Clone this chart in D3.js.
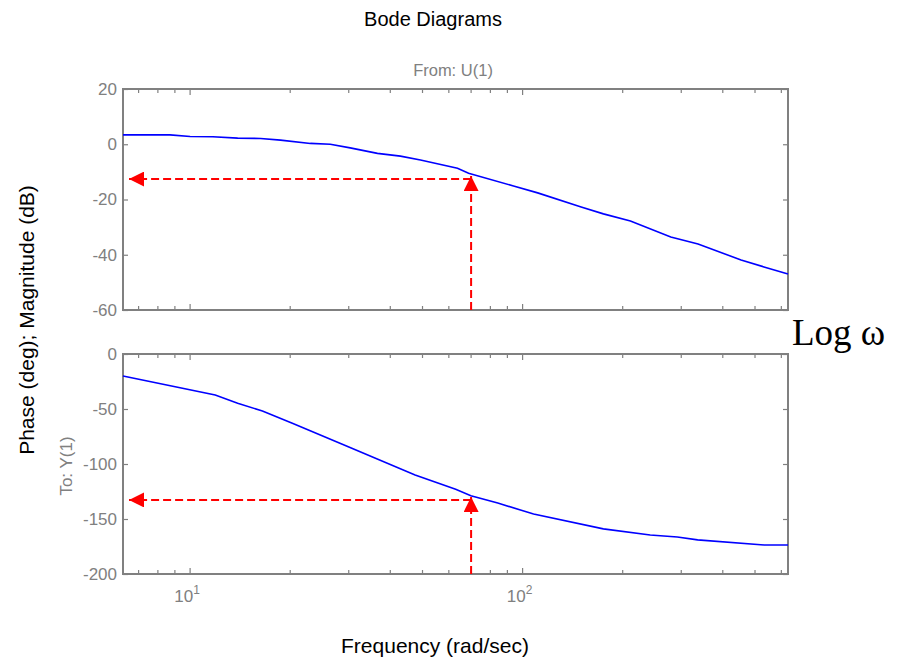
<!DOCTYPE html>
<html>
<head>
<meta charset="utf-8">
<script src="https://cdn.jsdelivr.net/npm/d3@7"></script>
<style>
  html, body { margin: 0; padding: 0; background: #fff; }
  svg { display: block; font-family: "Liberation Sans", Arial, sans-serif; }
</style>
</head>
<body>
<svg id="chart" width="907" height="661"></svg>
<script>
// Frequency response samples (rad/sec)
const magFreq  = [6.283, 8.7, 10, 11.7, 13.9, 16.3, 18.7, 23, 26.4, 30.3, 36.6, 42.9, 49.3, 63.7, 68.8, 93.9, 111, 150, 175, 211, 279, 337, 454, 532, 628.3];
const magDb    = [3.4, 3.4, 2.8, 2.7, 2.2, 2.1, 1.5, 0.3, 0.0, -1.3, -3.3, -4.3, -5.7, -8.7, -10.5, -15.1, -17.6, -22.7, -25.2, -27.8, -33.6, -36.1, -41.9, -44.4, -47.0];
const phaseFreq = [6.283, 11.9, 13.9, 16.5, 20.3, 29.9, 47.5, 62.9, 69.9, 84.2, 107.9, 174.9, 242, 292, 336, 532, 628.3];
const phaseDeg  = [-20, -37.3, -44.8, -51.8, -63, -84.3, -110, -123, -128.8, -135.5, -145.5, -159, -164.5, -166.4, -169, -173.6, -173.6];

// Marked operating point
const markFreq = 70;
const markMag = -12.6;
const markPhase = -132.7;

// Axis ticks
const freqDomain = [2 * Math.PI, 200 * Math.PI];
const freqMinorTicks = [7, 8, 9, 20, 30, 40, 50, 60, 70, 80, 90, 200, 300, 400, 500, 600];
const freqMajorTicks = [10, 100];
const freqMajorExp = ["1", "2"];
const magTicks = [20, 0, -20, -40, -60];
const phaseTicks = [0, -50, -100, -150, -200];

const grey = "#808080";
const svg = d3.select("#chart");

const left = 123, right = 788;
const x = d3.scaleLog().domain(freqDomain).range([left, right]);
const yMag = d3.scaleLinear().domain([-60, 20]).range([310, 89]);
const yPh  = d3.scaleLinear().domain([-200, 0]).range([574, 354]);

// Arrow markers
const defs = svg.append("defs");
defs.append("marker")
  .attr("id", "arrowhead")
  .attr("viewBox", "0 0 10 10")
  .attr("refX", 10).attr("refY", 5)
  .attr("markerWidth", 15).attr("markerHeight", 15)
  .attr("markerUnits", "userSpaceOnUse")
  .attr("orient", "auto")
  .append("path")
  .attr("d", "M0,0 L10,5 L0,10 Z")
  .attr("fill", "#ff0000");

function drawPanel(y, ticks, showXLabels) {
  const g = svg.append("g");
  const [y0, y1] = y.range(); // bottom, top

  // Box
  g.append("rect")
    .attr("x", left).attr("y", y1)
    .attr("width", right - left).attr("height", y0 - y1)
    .attr("fill", "none").attr("stroke", grey).attr("stroke-width", 2);

  // Frequency ticks, inward on top and bottom
  [[y0, -1], [y1, 1]].forEach(([yy, dir]) => {
    g.selectAll(null).data(freqMinorTicks).enter().append("line")
      .attr("x1", d => x(d)).attr("x2", d => x(d))
      .attr("y1", yy).attr("y2", yy + dir * 4)
      .attr("stroke", grey).attr("stroke-width", 1.2);
    g.selectAll(null).data(freqMajorTicks).enter().append("line")
      .attr("x1", d => x(d)).attr("x2", d => x(d))
      .attr("y1", yy).attr("y2", yy + dir * 6)
      .attr("stroke", grey).attr("stroke-width", 1.2);
  });

  // Value ticks, inward on left and right
  const yAxis = d3.axisLeft(y).tickValues(ticks).tickSizeInner(-5).tickSizeOuter(0)
    .tickPadding(6).tickFormat(d => String(d));
  const ya = g.append("g").attr("transform", `translate(${left},0)`).call(yAxis);
  ya.select(".domain").remove();
  ya.selectAll(".tick line").attr("stroke", grey).attr("stroke-width", 1.2);
  ya.selectAll(".tick text").attr("fill", grey).attr("font-size", 17)
    .attr("font-family", "Liberation Sans, Arial, sans-serif");
  const yr = d3.axisRight(y).tickValues(ticks).tickSizeInner(-5).tickSizeOuter(0).tickFormat("");
  const yra = g.append("g").attr("transform", `translate(${right},0)`).call(yr);
  yra.select(".domain").remove();
  yra.selectAll(".tick line").attr("stroke", grey).attr("stroke-width", 1.2);

  if (showXLabels) {
    const lab = g.selectAll(null).data(freqMajorTicks).enter().append("text")
      .attr("x", d => x(d) - 3).attr("y", y0 + 28)
      .attr("text-anchor", "middle")
      .attr("fill", grey).attr("font-size", 17);
    lab.append("tspan").text("10");
    lab.append("tspan").attr("dy", -8).attr("font-size", 12).text((d, i) => freqMajorExp[i]);
  }
  return g;
}

drawPanel(yMag, magTicks, false);
drawPanel(yPh, phaseTicks, true);

// Response curves
const curves = svg.append("g");
curves.append("path")
  .datum(magFreq.map((f, i) => [f, magDb[i]]))
  .attr("d", d3.line().x(d => x(d[0])).y(d => yMag(d[1])))
  .attr("fill", "none").attr("stroke", "#0000ff").attr("stroke-width", 1.6);
curves.append("path")
  .datum(phaseFreq.map((f, i) => [f, phaseDeg[i]]))
  .attr("d", d3.line().x(d => x(d[0])).y(d => yPh(d[1])))
  .attr("fill", "none").attr("stroke", "#0000ff").attr("stroke-width", 1.6);

// Dashed read-off arrows
function readOff(y, value) {
  const xm = x(markFreq), ym = y(value);
  const g = svg.append("g").attr("stroke", "#ff0000").attr("stroke-width", 2)
    .attr("stroke-dasharray", "8,4").attr("fill", "none");
  g.append("line")
    .attr("x1", xm).attr("y1", y.range()[0])
    .attr("x2", xm).attr("y2", ym - 3)
    .attr("marker-end", "url(#arrowhead)");
  g.append("line")
    .attr("x1", xm).attr("y1", ym)
    .attr("x2", left + 6).attr("y2", ym)
    .attr("marker-end", "url(#arrowhead)");
}
readOff(yMag, markMag);
readOff(yPh, markPhase);

// Titles and labels
svg.append("text").attr("x", 433).attr("y", 26).attr("text-anchor", "middle")
  .attr("font-size", 20).attr("fill", "#000").text("Bode Diagrams");
svg.append("text").attr("x", 453).attr("y", 76).attr("text-anchor", "middle")
  .attr("font-size", 16.5).attr("fill", grey).text("From: U(1)");
svg.append("text").attr("transform", "translate(34,320) rotate(-90)")
  .attr("text-anchor", "middle").attr("font-size", 21).attr("fill", "#000")
  .text("Phase (deg); Magnitude (dB)");
svg.append("text").attr("transform", "translate(72,466) rotate(-90)")
  .attr("text-anchor", "middle").attr("font-size", 17).attr("fill", grey)
  .text("To: Y(1)");
svg.append("text").attr("x", 435).attr("y", 653).attr("text-anchor", "middle")
  .attr("font-size", 21).attr("fill", "#000").text("Frequency (rad/sec)");
svg.append("text").attr("x", 792).attr("y", 345)
  .attr("font-family", "Liberation Serif, Times New Roman, serif")
  .attr("font-size", 37).attr("fill", "#000").text("Log ω");
</script>
</body>
</html>
